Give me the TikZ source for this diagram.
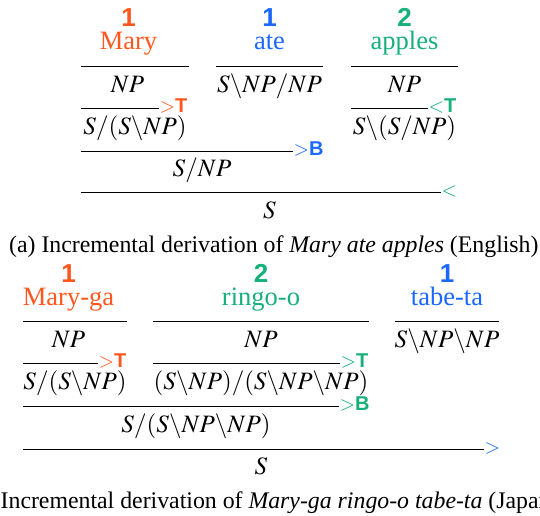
\documentclass[tikz,border=0pt]{standalone}
\usepackage{mathptmx}
\usepackage{fontspec}
\setmainfont{Liberation Serif}
\setsansfont{Liberation Sans}
\definecolor{corange}{RGB}{255,87,30}
\definecolor{cblue}{RGB}{28,104,255}
\definecolor{cgreen}{RGB}{22,176,122}
\newcommand\cbs{\backslash}
\tikzset{
  txt/.style={inner sep=0pt, anchor=base, font=\fontsize{23.8}{28}\selectfont},
  cat/.style={txt, font=\fontsize{25}{30}\selectfont},
  word/.style={txt, font=\fontsize{26.5}{31}\selectfont},
  num/.style={txt, font=\fontsize{26}{31}\selectfont\sffamily\bfseries},
  lbl/.style={inner sep=0pt, anchor=base west, font=\fontsize{20}{24}\selectfont},
  drule/.style={line width=1pt, black},
}
\newcommand\op[2]{$#1$\textsf{\textbf{#2}}}
\begin{document}
\begin{tikzpicture}[x=1pt,y=-1pt]
\useasboundingbox (0,0) rectangle (540,515);
\clip (0,0) rectangle (540,515);
% ---------- (a) ----------
\node[num, corange] (n1a) at (128.5,26) {1};
\node[word, corange] (w1a) at (128.5,49) {Mary};
\node[num, cblue] (n2a) at (269.5,26) {1};
\node[word, cblue] (w2a) at (269.5,49) {ate};
\node[num, cgreen] (n3a) at (404.5,26) {2};
\node[word, cgreen] (w3a) at (404.5,49) {apples};
\draw[drule] (81,66) -- (189,66);
\draw[drule] (216,66) -- (323,66);
\draw[drule] (351,66) -- (458,66);
\node[cat] (c1a) at (127.5,92) {$NP$};
\node[cat] (c2a) at (269.5,92) {$S\cbs NP/NP$};
\node[cat] (c3a) at (404.5,92) {$NP$};
\draw[drule] (81,108) -- (159,108);
\node[lbl, corange] (l1a) at (159.5,112.5) {\op{>}{T}};
\draw[drule] (351,108) -- (428,108);
\node[lbl, cgreen] (l2a) at (428.5,112.5) {\op{<}{T}};
\node[cat] (c4a) at (135,134) {$S/(S\cbs NP)$};
\node[cat] (c5a) at (404.5,134) {$S\cbs(S/NP)$};
\draw[drule] (81,151) -- (293,151);
\node[lbl, cblue] (l3a) at (293.5,155.5) {\op{>}{B}};
\node[cat] (c6a) at (202,176) {$S/NP$};
\draw[drule] (81,192) -- (441,192);
\node[lbl, cgreen] (l4a) at (441.5,196.5) {$<$};
\node[cat] (c7a) at (269.5,218) {$S$};
\node[txt, anchor=base west] (capa) at (9,252) {(a) Incremental derivation of \textit{Mary ate apples} (English)};
% ---------- (b) ----------
\node[num, corange] (n1b) at (68.5,282) {1};
\node[word, corange] (w1b) at (68.5,305) {Mary-ga};
\node[num, cgreen] (n2b) at (261,282) {2};
\node[word, cgreen] (w2b) at (261,305) {ringo-o};
\node[num, cblue] (n3b) at (447,282) {1};
\node[word, cblue] (w3b) at (447,305) {tabe-ta};
\draw[drule] (23,321) -- (127,321);
\draw[drule] (153,321) -- (369,321);
\draw[drule] (395,321) -- (499,321);
\node[cat] (c1b) at (68.5,347) {$NP$};
\node[cat] (c2b) at (261,347) {$NP$};
\node[cat] (c3b) at (447,347) {$S\cbs NP\cbs NP$};
\draw[drule] (23,363) -- (98,363);
\node[lbl, corange] (l1b) at (98.5,367.5) {\op{>}{T}};
\draw[drule] (153,363) -- (340,363);
\node[lbl, cgreen] (l2b) at (340.5,367.5) {\op{>}{T}};
\node[cat] (c4b) at (75,389) {$S/(S\cbs NP)$};
\node[cat] (c5b) at (261,389) {$(S\cbs NP)/(S\cbs NP\cbs NP)$};
\draw[drule] (23,406) -- (339,406);
\node[lbl, cgreen] (l3b) at (339.5,410.5) {\op{>}{B}};
\node[cat] (c6b) at (196,432) {$S/(S\cbs NP\cbs NP)$};
\draw[drule] (23,449) -- (484,449);
\node[lbl, cblue] (l4b) at (484.5,453.5) {$>$};
\node[cat] (c7b) at (261,474) {$S$};
\node[txt, anchor=base west] (capb) at (0.5,508) {\llap{(b) }Incremental derivation of \textit{Mary-ga ringo-o tabe-ta} (Japanese)};
\end{tikzpicture}
\end{document}
